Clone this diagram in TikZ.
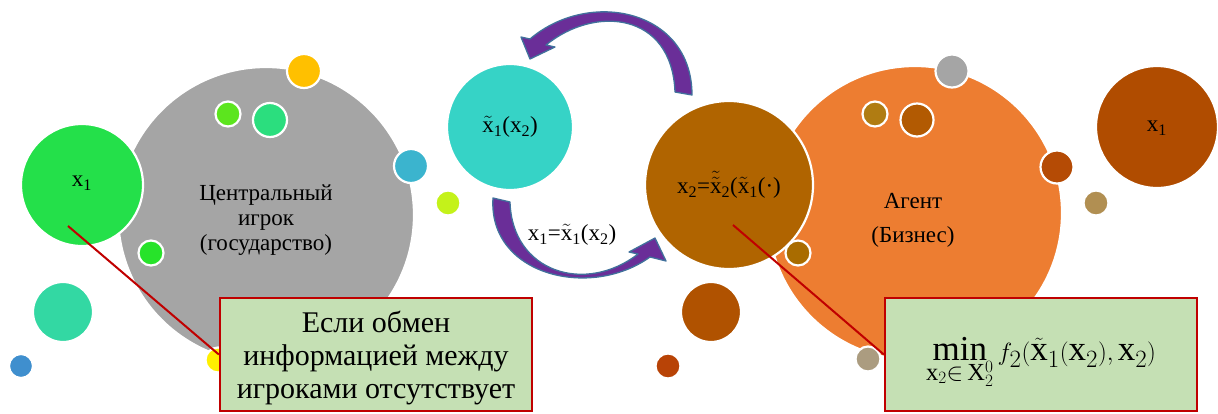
\documentclass[tikz,border=0pt]{standalone}
\usepackage{fontspec}
\setmainfont{Liberation Serif}
\definecolor{cGray}{HTML}{A5A5A5}
\definecolor{cGreen}{HTML}{24E04A}
\definecolor{cGold}{HTML}{FFC000}
\definecolor{cLime}{HTML}{5CE51E}
\definecolor{cMint}{HTML}{2BDE7E}
\definecolor{cBlue}{HTML}{3BB4CE}
\definecolor{cLimeY}{HTML}{C4F21A}
\definecolor{cGreenS}{HTML}{27E32A}
\definecolor{cTealB}{HTML}{33D8A3}
\definecolor{cBlueS}{HTML}{3F8FCE}
\definecolor{cYellow}{HTML}{FFF000}
\definecolor{cTeal}{HTML}{36D3C6}
\definecolor{cBrownX}{HTML}{B06400}
\definecolor{cOrange}{HTML}{ED7D31}
\definecolor{cGoldS}{HTML}{B07C12}
\definecolor{cBrownS}{HTML}{B25A02}
\definecolor{cGoldE}{HTML}{A96C00}
\definecolor{cBrownB}{HTML}{B05200}
\definecolor{cRedBr}{HTML}{B84306}
\definecolor{cTan}{HTML}{AB9C80}
\definecolor{cRedBrE}{HTML}{B54B05}
\definecolor{cTanS}{HTML}{B18F52}
\definecolor{cBrownR}{HTML}{B04C00}
\definecolor{cBoxFill}{HTML}{C5E0B4}
\definecolor{cBoxLine}{HTML}{C00000}
\definecolor{cArrow}{HTML}{6A2E98}
\definecolor{cArrowLine}{HTML}{41719C}
\newcommand{\tldx}{\ensuremath{\tilde{\mbox{x}}}}
\newcommand{\ttldx}{\ensuremath{\tilde{\tilde{\mbox{x}}}}}
\pgfdeclarelayer{top}
\pgfsetlayers{main,top}
\begin{document}
\begin{tikzpicture}[x=1pt,y=-1pt,
  bub/.style={circle,draw=white,line width=2.2pt,inner sep=0pt},
  lbl/.style={align=center,font=\fontsize{23}{25}\selectfont,inner sep=0pt},
  callout/.style={draw=cBoxLine,line width=2pt},
  notebox/.style={draw=cBoxLine,fill=cBoxFill,line width=2.4pt,inner sep=0pt,minimum width=312pt,minimum height=113pt},
  bigarrow/.style={fill=cArrow,draw=cArrowLine,line width=1.3pt,line join=round}]
\useasboundingbox (0,0) rectangle (1218,413);

% ---------- left group ----------
\node[bub,fill=cGray,minimum size=296pt] (gov) at (266,215) {};
\node[bub,fill=cGreen,minimum size=122pt] (x1l) at (82,185) {};
\node[bub,fill=cGold,minimum size=34pt] (s1) at (304,71) {};
\node[bub,fill=cLime,minimum size=25pt] (s2) at (228,114) {};
\node[bub,fill=cMint,minimum size=34pt] (s3) at (270,120) {};
\node[bub,fill=cBlue,minimum size=34pt] (s4) at (411,166) {};
\node[bub,fill=cLimeY,minimum size=25pt] (s5) at (448,203) {};
\node[bub,fill=cGreenS,minimum size=25pt] (s6) at (151,253) {};
\node[bub,fill=cTealB,minimum size=60pt] (s7) at (63,312) {};
\node[bub,fill=cBlueS,minimum size=24pt] (s8) at (21,366) {};
\node[bub,fill=cYellow,minimum size=25pt] (yel) at (218,360) {};
\node[lbl] (x1lt) at (82,183) {x\textsubscript{1}};
\node[lbl] (govt) at (266,220) {Центральный\\игрок\\(государство)};

% ---------- middle ----------
\node[bub,fill=cTeal,minimum size=126pt] (xt) at (510,127) {};
\node[lbl] (xtt) at (510,127) {\tldx\textsubscript{1}(x\textsubscript{2})};

% ---------- right group ----------
\node[bub,fill=cOrange,minimum size=294pt] (agent) at (915,213) {};
\node[bub,fill=cBrownX,minimum size=168pt] (x2) at (729,185) {};
\node[bub,fill=cGray,minimum size=33pt] (r1) at (952,71) {};
\node[bub,fill=cGoldS,minimum size=25pt] (r2) at (875,114) {};
\node[bub,fill=cBrownS,minimum size=33pt] (r3) at (917,120) {};
\node[bub,fill=cGoldE,minimum size=25pt] (r4) at (798,253) {};
\node[bub,fill=cBrownB,minimum size=60pt] (r5) at (711,312) {};
\node[bub,fill=cRedBr,minimum size=25pt] (r6) at (668,366) {};
\node[bub,fill=cTan,minimum size=25pt] (r7) at (868,359) {};
\node[bub,fill=cRedBrE,minimum size=33pt] (r8) at (1057,167) {};
\node[bub,fill=cTanS,minimum size=25pt] (r9) at (1096,203) {};
\node[bub,fill=cBrownR,minimum size=122pt] (x1r) at (1157,127) {};
\node[lbl] (x2t) at (729,185) {x\textsubscript{2}=\ttldx\textsubscript{2}(\tldx\textsubscript{1}(·)};
\node[lbl] (agentt) at (913,220) {Агент\\[9pt](Бизнес)};
\node[lbl] (x1rt) at (1157,128) {x\textsubscript{1}};

% ---------- curved arrows ----------
\path[bigarrow] (692,95) .. controls (692,10) and (590,-12) .. (530,39)
  -- (521,37) -- (530,59) -- (555,47) -- (546,45)
  .. controls (595,5) and (672,12) .. (675,92) -- cycle;
\path[bigarrow] (493,198) .. controls (488,275) and (590,300) .. (650,257)
  -- (666,261) -- (655,238) -- (629,252) -- (638,254)
  .. controls (585,295) and (512,272) .. (510,202) -- cycle;
\node[lbl] (lab) at (572,235) {x\textsubscript{1}=\tldx\textsubscript{1}(x\textsubscript{2})};

% ---------- callouts ----------
\begin{pgfonlayer}{top}
\node[notebox] (box1) at (376,354.5) {};
\node[notebox] (box2) at (1041,354.5) {};
\node[align=center,font=\fontsize{30}{33}\selectfont,inner sep=0pt] (box1t) at (376,358)
  {Если обмен\\информацией между\\игроками отсутствует};
\node[font=\fontsize{35}{40}\selectfont,inner sep=0pt] (box2t) at (1041,362)
  {$\displaystyle\min_{\mathrm{x}_2\in\,\mathrm{X}_2^0} f_2(\tilde{\mathrm{x}}_1(\mathrm{x}_2),\mathrm{x}_2)$};
\end{pgfonlayer}
\coordinate (p1) at (68,226);
\coordinate (p2) at (733,225);
\draw[callout] (p1) -- (box1.west);
\draw[callout] (p2) -- (box2.west);
\end{tikzpicture}
\end{document}
